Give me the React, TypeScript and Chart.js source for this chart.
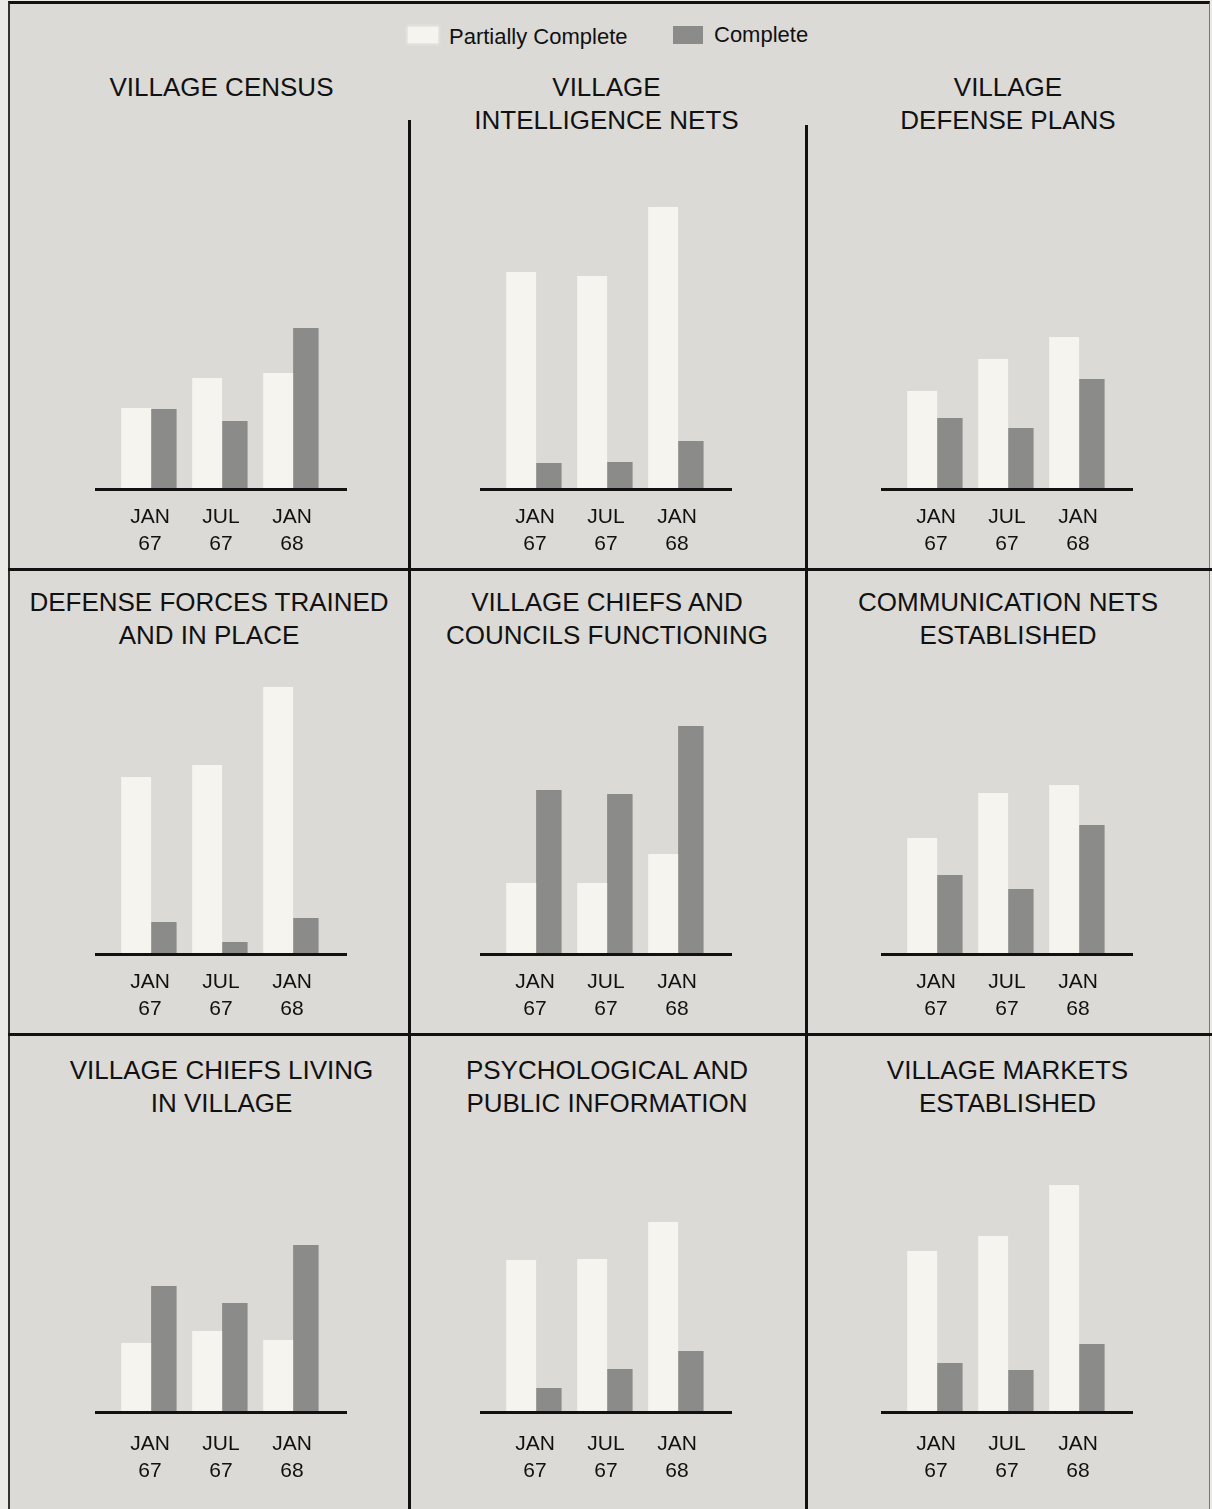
import React, { useEffect, useRef } from "react";
import { Chart, registerables } from "chart.js";

Chart.register(...registerables);

// ---------- data ----------
const CATEGORIES: string[][] = [["JAN", "67"], ["JUL", "67"], ["JAN", "68"]];
const SERIES_NAMES = ["Partially Complete", "Complete"];

const censusPartial = [81, 111, 116];
const censusComplete = [80, 68, 161];
const intelPartial = [217, 213, 282];
const intelComplete = [26, 27, 48];
const defensePlansPartial = [98, 130, 152];
const defensePlansComplete = [71, 61, 110];
const forcesPartial = [177, 189, 267];
const forcesComplete = [32, 12, 36];
const councilsPartial = [71, 71, 100];
const councilsComplete = [164, 160, 228];
const commNetsPartial = [116, 161, 169];
const commNetsComplete = [79, 65, 129];
const chiefsLivingPartial = [69, 81, 72];
const chiefsLivingComplete = [126, 109, 167];
const psyopsPartial = [152, 153, 190];
const psyopsComplete = [24, 43, 61];
const marketsPartial = [161, 176, 227];
const marketsComplete = [49, 42, 68];

const TITLES: string[][] = [
  ["VILLAGE CENSUS"],
  ["VILLAGE", "INTELLIGENCE NETS"],
  ["VILLAGE", "DEFENSE PLANS"],
  ["DEFENSE FORCES TRAINED", "AND IN PLACE"],
  ["VILLAGE CHIEFS AND", "COUNCILS FUNCTIONING"],
  ["COMMUNICATION NETS", "ESTABLISHED"],
  ["VILLAGE CHIEFS LIVING", "IN VILLAGE"],
  ["PSYCHOLOGICAL AND", "PUBLIC INFORMATION"],
  ["VILLAGE MARKETS", "ESTABLISHED"],
];
const PARTIAL_SERIES = [
  censusPartial, intelPartial, defensePlansPartial,
  forcesPartial, councilsPartial, commNetsPartial,
  chiefsLivingPartial, psyopsPartial, marketsPartial,
];
const COMPLETE_SERIES = [
  censusComplete, intelComplete, defensePlansComplete,
  forcesComplete, councilsComplete, commNetsComplete,
  chiefsLivingComplete, psyopsComplete, marketsComplete,
];
const Y_MAX = 300;

// ---------- styles ----------
const FONT = "'Liberation Sans', Arial, Helvetica, sans-serif";
const BG = "#dcdad6";
const PARTIAL_COLOR = "#f6f4ef";
const COMPLETE_COLOR = "#8b8b8a";
const INK = "#111111";

const COL_CX = [221.5, 606.5, 1008];
const ROW_BASE = [489, 954, 1412];
const ROW_TITLE_TOP = [71, 586, 1054];
const ROW_TICK_PAD = [7, 7, 11];
const TITLE_CX = [221.5, 606.5, 1008, 209, 607, 1008, 221.5, 607, 1007.5];

const CANVAS_W = 270;
const PLOT_H = 300;
const AXIS_H = 80;
const CAT_W = 71;

const baselinePlugin = {
  id: "baselineRule",
  afterDatasetsDraw(chart: any) {
    const { ctx, chartArea } = chart;
    const ext = 19.5;
    ctx.save();
    ctx.fillStyle = "#111";
    ctx.fillRect(chartArea.left - ext, chartArea.bottom - 1, chartArea.right - chartArea.left + ext * 2, 3);
    ctx.restore();
  },
};

function Panel({ idx }: { idx: number }) {
  const ref = useRef<HTMLCanvasElement | null>(null);
  const row = Math.floor(idx / 3);
  const col = idx % 3;
  const cx = COL_CX[col];
  const left = Math.round(cx - CANVAS_W / 2);
  const top = ROW_BASE[row] - PLOT_H;

  useEffect(() => {
    if (!ref.current) return;
    const pad = (CANVAS_W - CAT_W * 3) / 2;
    const chart = new Chart(ref.current, {
      type: "bar",
      data: {
        labels: CATEGORIES,
        datasets: [
          {
            label: SERIES_NAMES[0],
            data: PARTIAL_SERIES[idx],
            backgroundColor: PARTIAL_COLOR,
            borderWidth: 0,
            categoryPercentage: 0.78,
            barPercentage: 1.08,
          },
          {
            label: SERIES_NAMES[1],
            data: COMPLETE_SERIES[idx],
            backgroundColor: COMPLETE_COLOR,
            borderWidth: 0,
            categoryPercentage: 0.78,
            barPercentage: 0.92,
          },
        ],
      },
      options: {
        responsive: false,
        animation: false,
        events: [],
        layout: { padding: { left: pad, right: pad, top: 0, bottom: 0 } },
        plugins: {
          legend: { display: false },
          tooltip: { enabled: false },
          title: { display: false },
        },
        scales: {
          x: {
            grid: { display: false },
            border: { display: false },
            ticks: {
              color: INK,
              padding: ROW_TICK_PAD[row],
              maxRotation: 0,
              autoSkip: false,
              font: { family: FONT, size: 21, lineHeight: "27px" },
            },
            afterFit: (s: any) => {
              s.height = AXIS_H;
            },
          },
          y: { display: false, min: 0, max: Y_MAX },
        },
      },
      plugins: [baselinePlugin],
    } as any);
    return () => chart.destroy();
  }, [idx]);

  return (
    <>
      <div
        style={{
          position: "absolute",
          left: TITLE_CX[idx] - 200,
          width: 400,
          top: ROW_TITLE_TOP[row],
          textAlign: "center",
          fontFamily: FONT,
          fontSize: 26,
          lineHeight: "32.5px",
          color: INK,
          whiteSpace: "nowrap",
        }}
      >
        {TITLES[idx].map((t, i) => (
          <div key={i}>{t}</div>
        ))}
      </div>
      <canvas
        ref={ref}
        width={CANVAS_W}
        height={PLOT_H + AXIS_H}
        style={{ position: "absolute", left: left - 1, top, width: CANVAS_W, height: PLOT_H + AXIS_H }}
      />
    </>
  );
}

export default function App() {
  const line = (l: number, t: number, w: number, h: number, key: string) => (
    <div key={key} style={{ position: "absolute", left: l, top: t, width: w, height: h, background: "#111" }} />
  );
  return (
    <div
      style={{
        position: "absolute",
        left: 0,
        top: 0,
        width: 1212,
        height: 1509,
        overflow: "hidden",
        background: "#eceae6",
        fontFamily: FONT,
      }}
    >
      <div
        style={{
          position: "absolute",
          left: 8,
          top: 1,
          width: 1202,
          height: 1508,
          background: BG,
          boxSizing: "border-box",
          borderTop: "3px solid #111",
          borderLeft: "2px solid #333",
          borderRight: "1px solid #777",
        }}
      />
      {line(8, 568, 1204, 3, "h1")}
      {line(8, 1033, 1204, 3, "h2")}
      {line(408, 120, 3, 1389, "v1")}
      {line(805, 125, 3, 1384, "v2")}

      {/* legend */}
      <div
        style={{
          position: "absolute",
          left: 408,
          top: 27,
          width: 30,
          height: 16,
          background: PARTIAL_COLOR,
          boxShadow: "0 0 3px 1px rgba(246,244,239,0.8)",
        }}
      />
      <div style={{ position: "absolute", left: 449, top: 23, fontSize: 22, lineHeight: "28px", color: INK, whiteSpace: "nowrap" }}>
        {SERIES_NAMES[0]}
      </div>
      <div style={{ position: "absolute", left: 673, top: 26, width: 30, height: 18, background: COMPLETE_COLOR }} />
      <div style={{ position: "absolute", left: 714, top: 21, fontSize: 22, lineHeight: "28px", color: INK, whiteSpace: "nowrap" }}>
        {SERIES_NAMES[1]}
      </div>

      {TITLES.map((_, i) => (
        <Panel key={i} idx={i} />
      ))}
    </div>
  );
}
